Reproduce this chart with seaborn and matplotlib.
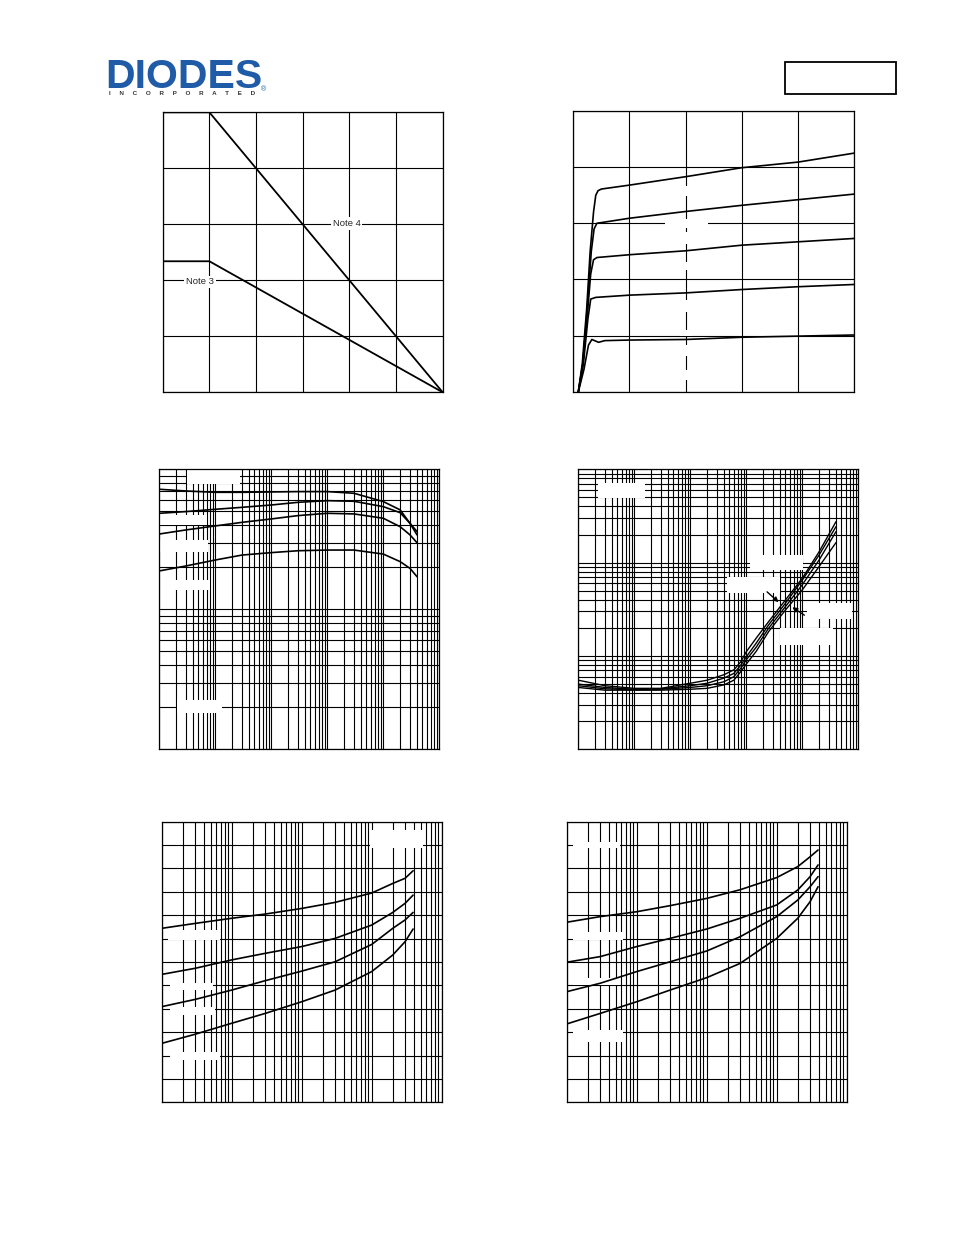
import numpy as np
import pandas as pd
import matplotlib
matplotlib.use("Agg")
import matplotlib.pyplot as plt
import seaborn as sns
from matplotlib.patches import Rectangle
from matplotlib.ticker import LogLocator, MultipleLocator, NullFormatter

sns.set_style("white")
plt.rcParams['font.family'] = ['Liberation Sans', 'DejaVu Sans']

W, H = 954, 1235

# ---- panel 1: power derating (temp, power)
derate_temp = [0, 25, 150]
note4_power = [1000, 1000, 0]
note3_power = [468, 468, 0]

# ---- panel 2: output characteristics (V, A)
out_v1 = [0.09, 0.16, 0.24, 0.30, 0.36, 0.40, 0.44, 0.5, 1, 2, 3, 4, 5]
out_i1 = [0, 0.5, 1.5, 2.5, 3.2, 3.5, 3.58, 3.61, 3.68, 3.83, 3.99, 4.09, 4.25]
out_v2 = [0.09, 0.17, 0.25, 0.32, 0.37, 0.42, 1, 2, 3, 4, 5]
out_i2 = [0, 0.5, 1.5, 2.5, 2.9, 3.0, 3.09, 3.21, 3.32, 3.42, 3.52]
out_v3 = [0.09, 0.17, 0.26, 0.31, 0.36, 0.42, 1, 2, 3, 4, 5]
out_i3 = [0, 0.5, 1.5, 2.1, 2.35, 2.39, 2.44, 2.51, 2.61, 2.67, 2.73]
out_v4 = [0.09, 0.18, 0.26, 0.31, 0.40, 1, 2, 3, 4, 5]
out_i4 = [0, 0.5, 1.3, 1.65, 1.68, 1.72, 1.76, 1.82, 1.87, 1.91]
out_v5 = [0.09, 0.19, 0.27, 0.33, 0.45, 0.56, 1, 2, 3, 4, 5]
out_i5 = [0, 0.4, 0.83, 0.93, 0.88, 0.91, 0.92, 0.93, 0.97, 0.99, 1.01]

# ---- panel 3: gain vs collector current
hfe_ic = [1e-4, 3e-4, 1e-3, 3e-3, 0.01, 0.03, 0.1, 0.3, 1, 2, 3, 4]
hfe_1 = [720, 700, 685, 685, 689, 693, 693, 674, 588, 513, 411, 359]
hfe_2 = [485, 499, 518, 535, 556, 581, 597, 591, 541, 490, 411, 340]
hfe_3 = [345, 369, 394, 418, 442, 467, 485, 480, 447, 389, 340, 299]
hfe_4 = [188, 204, 225, 244, 254, 262, 265, 265, 248, 219, 196, 171]

# ---- panel 4: saturation voltage vs collector current
sat_ic = [1e-4, 3e-4, 1e-3, 3e-3, 0.01, 0.02, 0.04, 0.06, 0.08, 0.1, 0.15, 0.25, 0.5, 1, 2, 4]
sat_a = [5.5e-3, 4.8e-3, 4.5e-3, 4.5e-3, 5.1e-3, 5.5e-3, 6.3e-3, 7.1e-3, 8.7e-3, 0.0111, 0.0155, 0.0233, 0.0398, 0.068, 0.131, 0.275]
sat_b = [5.0e-3, 4.6e-3, 4.4e-3, 4.45e-3, 4.8e-3, 5.1e-3, 5.8e-3, 6.5e-3, 8.0e-3, 9.8e-3, 0.0137, 0.0215, 0.0367, 0.065, 0.121, 0.243]
sat_c = [4.8e-3, 4.45e-3, 4.35e-3, 4.4e-3, 4.6e-3, 4.8e-3, 5.3e-3, 6.0e-3, 7.4e-3, 9.1e-3, 0.0124, 0.0198, 0.0338, 0.058, 0.107, 0.215]
sat_d = [4.6e-3, 4.3e-3, 4.3e-3, 4.3e-3, 4.4e-3, 4.5e-3, 4.9e-3, 5.5e-3, 6.8e-3, 8.2e-3, 0.0112, 0.0182, 0.0311, 0.051, 0.091, 0.164]

# ---- panel 5 / 6: base-emitter voltages vs collector current
vb_ic = [1e-3, 3e-3, 0.01, 0.03, 0.1, 0.3, 1, 2, 3, 3.9]
vbe_sat_1 = [0.744, 0.765, 0.787, 0.805, 0.829, 0.855, 0.895, 0.936, 0.958, 0.990]
vbe_sat_2 = [0.547, 0.573, 0.609, 0.637, 0.666, 0.701, 0.758, 0.812, 0.851, 0.886]
vbe_sat_3 = [0.409, 0.440, 0.480, 0.520, 0.561, 0.601, 0.675, 0.744, 0.780, 0.812]
vbe_sat_4 = [0.252, 0.291, 0.338, 0.380, 0.430, 0.480, 0.559, 0.630, 0.687, 0.741]
vbe_on_1 = [0.770, 0.794, 0.815, 0.841, 0.872, 0.909, 0.961, 1.008, 1.050, 1.079]
vbe_on_2 = [0.599, 0.623, 0.666, 0.701, 0.741, 0.787, 0.844, 0.908, 0.965, 1.015]
vbe_on_3 = [0.473, 0.509, 0.559, 0.601, 0.647, 0.708, 0.794, 0.865, 0.922, 0.965]
vbe_on_4 = [0.335, 0.380, 0.430, 0.480, 0.533, 0.594, 0.701, 0.787, 0.858, 0.922]


def px_axes(fig, x0, y0, x1, y1):
    return fig.add_axes([x0 / W, 1 - y1 / H, (x1 - x0) / W, (y1 - y0) / H])


def style(ax):
    ax.grid(True, which='both', color='black', lw=0.8)
    ax.tick_params(which='both', length=0, labelbottom=False, labelleft=False)
    ax.xaxis.set_minor_formatter(NullFormatter())
    ax.yaxis.set_minor_formatter(NullFormatter())
    for s in ax.spines.values():
        s.set_color('black')
        s.set_linewidth(0.9)


def log_axis(axis):
    axis.set_major_locator(LogLocator(base=10, numticks=20))
    axis.set_minor_locator(LogLocator(base=10, subs=np.arange(2, 10), numticks=20))


def blank(ax, boxes):
    # white label backgrounds (pixel coords of the page)
    for x0, y0, x1, y1 in boxes:
        ax.add_patch(Rectangle((x0 / W, 1 - y1 / H), (x1 - x0) / W, (y1 - y0) / H,
                               transform=ax.figure.transFigure, facecolor='white',
                               edgecolor='none', zorder=1.8, clip_on=False))


def curves(ax, xs, ys_list, lw=1.2):
    for ys in ys_list:
        sns.lineplot(x=xs, y=ys, ax=ax, color='black', lw=lw, estimator=None, sort=False)


fig = plt.figure(figsize=(W / 100, H / 100), dpi=100)

# logo + header box
fig.text(105 / W, 1 - 87.5 / H, 'DIODES', fontsize=29.5, fontweight='bold', color='#1f5ba6',
         ha='left', va='baseline')
fig.add_artist(plt.Line2D([105 / W, 183 / W], [1 - 67 / H, 1 - 67 / H], color='white', lw=1.3))
fig.text(182 / W, 1 - 95 / H, '     '.join('INCORPORATED'), fontsize=4.5, fontweight='bold',
         color='#333333', ha='center', va='baseline')
fig.text(264 / W, 1 - 91 / H, '®', fontsize=5, color='#1f5ba6', ha='center', va='baseline')
fig.add_artist(Rectangle((785 / W, 1 - 94 / H), 111 / W, 32 / H, transform=fig.transFigure,
                         facecolor='white', edgecolor='black', lw=1.3))

# panel 1
ax1 = px_axes(fig, 162.7, 112.3, 442.7, 392.3)
ax1.set_xlim(0, 150)
ax1.set_ylim(0, 1000)
ax1.xaxis.set_major_locator(MultipleLocator(25))
ax1.yaxis.set_major_locator(MultipleLocator(200))
style(ax1)
curves(ax1, derate_temp, [note4_power, note3_power], lw=1.3)
for label, (px, py) in {'Note 4': (346.5, 223.5), 'Note 3': (200, 282)}.items():
    ax1.text(px / W, 1 - py / H, label, transform=fig.transFigure, fontsize=6.8, ha='center',
             va='center', zorder=3, bbox=dict(facecolor='white', edgecolor='none', pad=1.2))

# panel 2
ax2 = px_axes(fig, 573.3, 111, 854.3, 391.7)
ax2.set_xlim(0, 5)
ax2.set_ylim(0, 5)
ax2.xaxis.set_major_locator(MultipleLocator(1))
ax2.yaxis.set_major_locator(MultipleLocator(1))
style(ax2)
for xv, yv in [(out_v1, out_i1), (out_v2, out_i2), (out_v3, out_i3), (out_v4, out_i4), (out_v5, out_i5)]:
    curves(ax2, xv, [yv])
blank(ax2, [(665, 219, 708, 228), (680, 186, 692, 196), (680, 232, 692, 244),
            (680, 262, 692, 270), (680, 300, 692, 312), (680, 330, 692, 336),
            (680, 345, 692, 356), (680, 370, 692, 380)])

# panel 3
ax3 = px_axes(fig, 159.3, 469.3, 439.3, 749.3)
ax3.set_xscale('log')
ax3.set_yscale('log')
ax3.set_xlim(1e-4, 10)
ax3.set_ylim(10, 1000)
log_axis(ax3.xaxis)
log_axis(ax3.yaxis)
style(ax3)
curves(ax3, hfe_ic, [hfe_1, hfe_2, hfe_3, hfe_4])
blank(ax3, [(186.7, 470, 240, 484), (160, 515, 207, 525), (160, 540, 208, 552),
            (175, 580, 210, 590), (177, 700, 222, 713)])

# panel 4
ax4 = px_axes(fig, 578.3, 469.3, 858.3, 749.3)
ax4.set_xscale('log')
ax4.set_yscale('log')
ax4.set_xlim(1e-4, 10)
ax4.set_ylim(1e-3, 1)
log_axis(ax4.xaxis)
log_axis(ax4.yaxis)
style(ax4)
curves(ax4, sat_ic, [sat_a, sat_b, sat_c, sat_d], lw=1.0)
blank(ax4, [(598, 483, 645, 498), (750, 555, 803, 570), (727, 577, 780, 593),
            (807, 603, 852, 619), (780, 628, 833, 645)])
for (sx, sy), (ex, ey) in [((765, 590), (780.7, 604)), ((806.7, 616.7), (790, 605.7))]:
    ax4.annotate('', xy=(ex / W, 1 - ey / H), xytext=(sx / W, 1 - sy / H),
                 xycoords='figure fraction', textcoords='figure fraction',
                 arrowprops=dict(arrowstyle='-|>', color='black', lw=1.0, mutation_scale=7))

# panel 5
ax5 = px_axes(fig, 161.7, 821.7, 441.7, 1102.3)
ax5.set_xscale('log')
ax5.set_xlim(1e-3, 10)
ax5.set_ylim(0, 1.2)
log_axis(ax5.xaxis)
ax5.yaxis.set_major_locator(MultipleLocator(0.1))
style(ax5)
curves(ax5, vb_ic, [vbe_sat_1, vbe_sat_2, vbe_sat_3, vbe_sat_4])
blank(ax5, [(370, 830, 423, 848), (168, 930, 220, 940), (170, 983, 213, 990),
            (170, 1007, 215, 1015), (170, 1052, 220, 1060)])

# panel 6
ax6 = px_axes(fig, 566.7, 821.7, 846.7, 1102.3)
ax6.set_xscale('log')
ax6.set_xlim(1e-3, 10)
ax6.set_ylim(0, 1.2)
log_axis(ax6.xaxis)
ax6.yaxis.set_major_locator(MultipleLocator(0.1))
style(ax6)
curves(ax6, vb_ic, [vbe_on_1, vbe_on_2, vbe_on_3, vbe_on_4])
blank(ax6, [(573, 842, 620, 848), (573, 932, 623, 940), (573, 978, 620, 985),
            (573, 1030, 623, 1042)])

fig.savefig('out.png', dpi=100)
